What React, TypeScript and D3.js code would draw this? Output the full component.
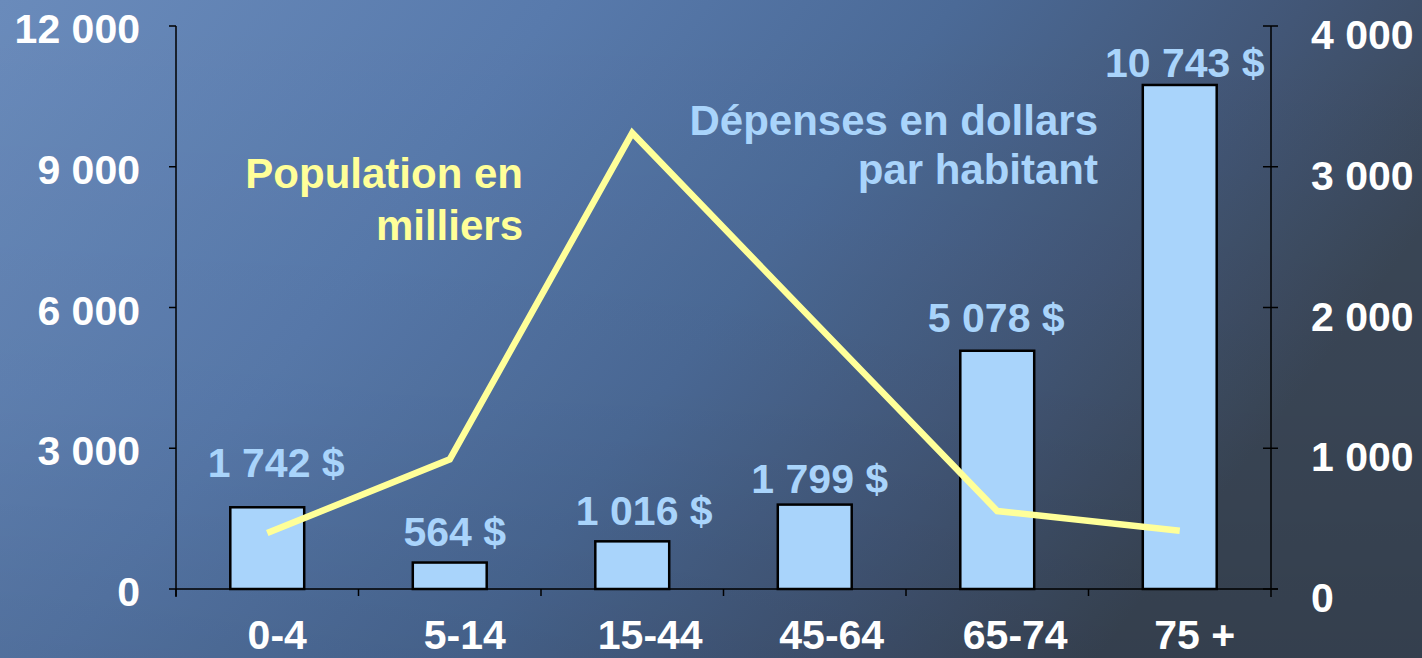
import React, { useEffect } from "react";
import * as d3 from "d3";

// ---- data ----
const categories = ["0-4", "5-14", "15-44", "45-64", "65-74", "75 +"];
const spending = [1742, 564, 1016, 1799, 5078, 10743]; // dollars per capita (bars, left axis)
const population = [398, 921, 3240, 1895, 554, 414]; // thousands (line, right axis)
const spendingLabels = ["1 742 $", "564 $", "1 016 $", "1 799 $", "5 078 $", "10 743 $"];
const leftTicks = [0, 3000, 6000, 9000, 12000];
const rightTicks = [0, 1000, 2000, 3000, 4000];

// ---- layout tweaks (pixels) ----
const valueLabelDx = [9, 5, 12, 5, -1, 5];
const valueLabelLift = [30, 17, 16, 12, 19, 8];
const catLabelDx = [10, 15, 18, 17, 18, 15];

const W = 1422;
const H = 658;
const FONT = "'Liberation Sans', Arial, Helvetica, sans-serif";
const BAR_BLUE = "#A9D4FB";
const YELLOW = "#FFFF99";

const fmt = (v: number) => {
  const s = String(v);
  return s.replace(/\B(?=(\d{3})+(?!\d))/g, " ");
};

export default function App() {
  useEffect(() => {
    document.body.style.margin = "0";
    document.body.style.overflow = "hidden";
  }, []);

  const x = d3.scaleBand<string>().domain(categories).range([176, 1271]).paddingInner(0).paddingOuter(0);
  const yL = d3.scaleLinear().domain([0, 12000]).range([589, 26]);
  const yR = d3.scaleLinear().domain([0, 4000]).range([589, 26]);
  const bw = x.bandwidth() * 0.405;
  const cx = (c: string) => (x(c) as number) + x.bandwidth() / 2;

  const line = d3
    .line<number>()
    .x((_, i) => cx(categories[i]))
    .y((d) => yR(d));

  const x0 = 176;
  const x1 = 1271;
  const y0 = yL(0);

  return (
    <svg width={W} height={H} style={{ position: "absolute", left: 0, top: 0, display: "block" }}>
      <defs>
        <linearGradient id="bg" x1="0" y1="0" x2="1" y2="0.35">
          <stop offset="0" stopColor="#6A8BBB" />
          <stop offset="0.35" stopColor="#587AAC" />
          <stop offset="0.6" stopColor="#4B6A97" />
          <stop offset="0.82" stopColor="#425676" />
          <stop offset="1" stopColor="#3A4656" />
        </linearGradient>
        <linearGradient id="shade" x1="0" y1="0" x2="0" y2="1">
          <stop offset="0" stopColor="#000" stopOpacity="0" />
          <stop offset="0.6" stopColor="#000" stopOpacity="0.03" />
          <stop offset="1" stopColor="#000" stopOpacity="0.1" />
        </linearGradient>
      </defs>
      <rect x={0} y={0} width={W} height={H} fill="url(#bg)" />
      <rect x={0} y={0} width={W} height={H} fill="url(#shade)" />

      {/* bars */}
      {categories.map((c, i) => (
        <rect
          key={c}
          x={cx(c) - bw / 2}
          y={yL(spending[i])}
          width={bw}
          height={y0 - yL(spending[i])}
          fill={BAR_BLUE}
          stroke="#000"
          strokeWidth={2.5}
        />
      ))}

      {/* axes */}
      <g stroke="#000" strokeWidth={1.5} fill="none">
        <line x1={x0} y1={26} x2={x0} y2={597} />
        <line x1={x1} y1={26} x2={x1} y2={597} />
        <line x1={x0} y1={y0} x2={x1 + 7} y2={y0} />
        {leftTicks.map((t) => (
          <line key={"lt" + t} x1={x0 - 7} y1={yL(t)} x2={x0} y2={yL(t)} />
        ))}
        {rightTicks.map((t) => (
          <line key={"rt" + t} x1={x1 - 8} y1={yR(t)} x2={x1 + 7} y2={yR(t)} />
        ))}
        {categories.map((c) => (
          <line key={"xt" + c} x1={x(c) as number} y1={y0} x2={x(c) as number} y2={y0 + 7} />
        ))}
      </g>

      {/* population line */}
      <path
        d={line(population) || ""}
        fill="none"
        stroke={YELLOW}
        strokeWidth={6.5}
        strokeLinejoin="miter"
        strokeLinecap="butt"
      />

      {/* value labels */}
      <g fontFamily={FONT} fontWeight="bold" fontSize={41} fill={BAR_BLUE} textAnchor="middle">
        {categories.map((c, i) => (
          <text key={"v" + c} x={cx(c) + valueLabelDx[i]} y={yL(spending[i]) - valueLabelLift[i]}>
            {spendingLabels[i]}
          </text>
        ))}
      </g>

      {/* tick labels */}
      <g fontFamily={FONT} fontWeight="bold" fontSize={41} fill="#fff">
        {leftTicks.map((t) => (
          <text key={"ll" + t} x={140} y={yL(t) + 17} textAnchor="end">
            {fmt(t)}
          </text>
        ))}
        {rightTicks.map((t) => (
          <text key={"rl" + t} x={1311} y={yR(t) + 23} textAnchor="start">
            {fmt(t)}
          </text>
        ))}
        {categories.map((c, i) => (
          <text key={"cl" + c} x={cx(c) + catLabelDx[i]} y={649} textAnchor="middle">
            {c}
          </text>
        ))}
      </g>

      {/* series annotations */}
      <g fontFamily={FONT} fontWeight="bold" fontSize={42} textAnchor="end">
        <text x={523} y={188} fill={YELLOW}>Population en</text>
        <text x={523} y={240} fill={YELLOW}>milliers</text>
        <text x={1098} y={135} fill={BAR_BLUE}>Dépenses en dollars</text>
        <text x={1098} y={184} fill={BAR_BLUE}>par habitant</text>
      </g>
    </svg>
  );
}
